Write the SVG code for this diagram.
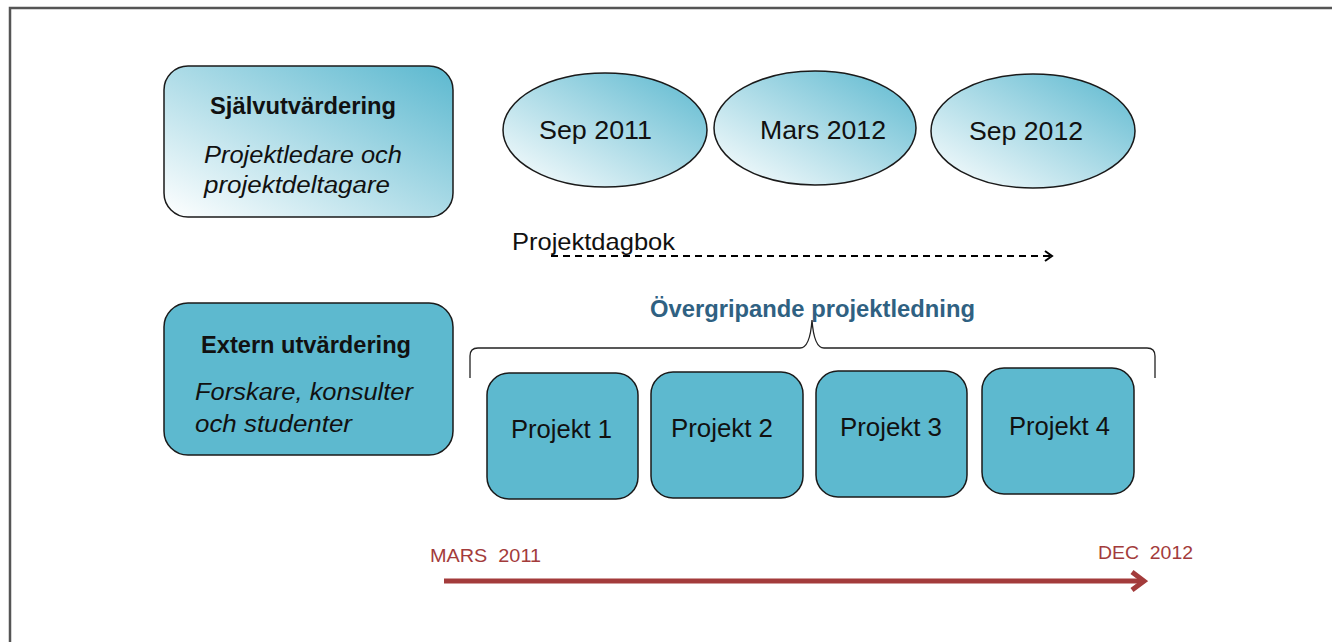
<svg xmlns="http://www.w3.org/2000/svg" width="1332" height="642" viewBox="0 0 1332 642">
<defs>
<linearGradient id="g" x1="0" y1="1" x2="1" y2="0">
<stop offset="0" stop-color="#FFFFFF"/>
<stop offset="1" stop-color="#5BB8CF"/>
</linearGradient>
<marker id="ah" viewBox="0 0 12 12" refX="10" refY="6" markerWidth="12" markerHeight="12" markerUnits="userSpaceOnUse" orient="auto">
<path d="M3,1 L10,6 L3,11" fill="none" stroke="#000" stroke-width="2"/>
</marker>
<marker id="ahr" viewBox="0 0 24 24" refX="20" refY="12" markerWidth="24" markerHeight="24" markerUnits="userSpaceOnUse" orient="auto">
<path d="M8,3 L20,12 L8,21" fill="none" stroke="#A33B3B" stroke-width="5"/>
</marker>
</defs>
<style>
.box{stroke:#1a1a1a;stroke-width:1.5}
.grad{fill:url(#g)}
.solid{fill:#5DB9CF}
.t{font-family:"Liberation Sans",Arial,sans-serif;font-size:25px;fill:#111}
.title{font-family:"Liberation Sans",Arial,sans-serif;font-weight:bold;font-size:23px;fill:#111}
.it{font-family:"Liberation Sans",Arial,sans-serif;font-style:italic;font-size:23px;fill:#111}
.red{font-family:"Liberation Sans",Arial,sans-serif;font-size:18px;fill:#A33B3B}
</style>
<rect width="1332" height="642" fill="#fff"/>
<path d="M10,642 L10,8 L1332,8" fill="none" stroke="#555" stroke-width="2.5"/>

<g id="sjalv">
<rect class="box grad" x="164" y="66" width="289" height="151" rx="24"/>
<text class="title" x="210" y="114" textLength="186" lengthAdjust="spacingAndGlyphs">Självutvärdering</text>
<text class="it" x="204" y="163" textLength="198" lengthAdjust="spacingAndGlyphs">Projektledare och</text>
<text class="it" x="204" y="193" textLength="186" lengthAdjust="spacingAndGlyphs">projektdeltagare</text>
</g>
<g id="sep2011">
<ellipse class="box grad" cx="605" cy="130" rx="102" ry="57"/>
<text class="t" x="539" y="139" textLength="113" lengthAdjust="spacingAndGlyphs">Sep 2011</text>
</g>
<g id="mars2012">
<ellipse class="box grad" cx="815" cy="128" rx="101" ry="57"/>
<text class="t" x="760" y="139" textLength="126" lengthAdjust="spacingAndGlyphs">Mars 2012</text>
</g>
<g id="sep2012">
<ellipse class="box grad" cx="1033" cy="131" rx="102" ry="57"/>
<text class="t" x="969" y="140" textLength="114" lengthAdjust="spacingAndGlyphs">Sep 2012</text>
</g>

<g id="extern">
<rect class="box solid" x="164" y="303" width="289" height="152" rx="24"/>
<text class="title" x="201" y="353" textLength="210" lengthAdjust="spacingAndGlyphs">Extern utvärdering</text>
<text class="it" x="195" y="400" textLength="218" lengthAdjust="spacingAndGlyphs">Forskare, konsulter</text>
<text class="it" x="195" y="432" textLength="157" lengthAdjust="spacingAndGlyphs">och studenter</text>
</g>

<g id="p1"><rect class="box solid" x="487" y="373" width="151" height="126" rx="22"/><text class="t" x="511" y="438" textLength="101" lengthAdjust="spacingAndGlyphs">Projekt 1</text></g>
<g id="p2"><rect class="box solid" x="651" y="372" width="152" height="126" rx="22"/><text class="t" x="671" y="437" textLength="102" lengthAdjust="spacingAndGlyphs">Projekt 2</text></g>
<g id="p3"><rect class="box solid" x="816" y="371" width="151" height="126" rx="22"/><text class="t" x="840" y="436" textLength="102" lengthAdjust="spacingAndGlyphs">Projekt 3</text></g>
<g id="p4"><rect class="box solid" x="982" y="368" width="152" height="126" rx="22"/><text class="t" x="1009" y="435" textLength="101" lengthAdjust="spacingAndGlyphs">Projekt 4</text></g>

<g id="labels">
<text class="t" x="512" y="250" style="font-size:24px" textLength="163" lengthAdjust="spacingAndGlyphs">Projektdagbok</text>
<text x="650" y="317" textLength="325" lengthAdjust="spacingAndGlyphs" style="font-family:'Liberation Sans',Arial,sans-serif;font-weight:bold;font-size:24px;fill:#2F6182">Övergripande projektledning</text>
<text class="red" x="430" y="562" xml:space="preserve" textLength="111" lengthAdjust="spacingAndGlyphs">MARS  2011</text>
<text class="red" x="1098" y="559" xml:space="preserve" textLength="95" lengthAdjust="spacingAndGlyphs">DEC  2012</text>
</g>

<g id="connectors">
<line x1="551" y1="256" x2="1052" y2="256" stroke="#000" stroke-width="2" stroke-dasharray="7,5" marker-end="url(#ah)"/>
<path d="M470,378 L470,356 Q470,348 478,348 L800,348 Q810,348 812,320 Q814,348 824,348 L1147,348 Q1155,348 1155,356 L1155,378" fill="none" stroke="#222" stroke-width="1.3"/>
<line x1="444" y1="581" x2="1144" y2="581" stroke="#A33B3B" stroke-width="5" marker-end="url(#ahr)"/>
</g>
</svg>
